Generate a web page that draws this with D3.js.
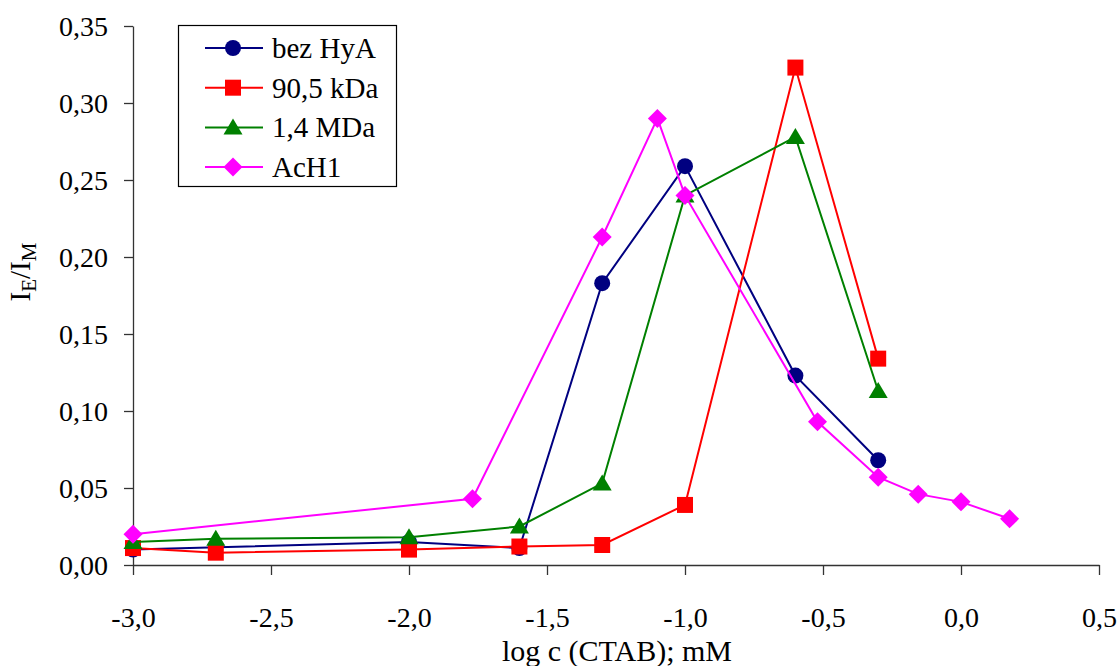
<!DOCTYPE html>
<html><head><meta charset="utf-8">
<script src="https://cdn.jsdelivr.net/npm/d3@7"></script>
<style>
html,body{margin:0;padding:0;background:#fff;}
svg{display:block;font-family:"Liberation Serif","Times New Roman",serif;}
</style></head>
<body>
<svg id="chart" width="1120" height="666"></svg>
<script>
// ---- data ----
const seriesNames = ["bez HyA", "90,5 kDa", "1,4 MDa", "AcH1"];
const bezHyA_x = [-3.0, -2.0, -1.6, -1.3, -1.0, -0.6, -0.3];
const bezHyA_y = [0.010, 0.015, 0.011, 0.183, 0.259, 0.123, 0.068];
const kDa_x = [-3.0, -2.7, -2.0, -1.6, -1.3, -1.0, -0.6, -0.3];
const kDa_y = [0.011, 0.008, 0.010, 0.012, 0.013, 0.039, 0.323, 0.134];
const MDa_x = [-3.0, -2.7, -2.0, -1.6, -1.3, -1.0, -0.6, -0.3];
const MDa_y = [0.015, 0.017, 0.018, 0.025, 0.053, 0.240, 0.278, 0.113];
const AcH1_x = [-3.0, -1.77, -1.3, -1.1, -1.0, -0.52, -0.3, -0.155, 0.0, 0.176];
const AcH1_y = [0.020, 0.043, 0.213, 0.290, 0.240, 0.093, 0.057, 0.046, 0.041, 0.030];
const xTicks = [-3.0, -2.5, -2.0, -1.5, -1.0, -0.5, 0.0, 0.5];
const yTicks = [0, 0.05, 0.10, 0.15, 0.20, 0.25, 0.30, 0.35];

const colors = ["#000080", "#FF0000", "#008000", "#FF00FF"];

// custom marker shapes (Excel-like, centred on the point)
const markerPath = [
  () => d3.symbol().type(d3.symbolCircle).size(201)(),
  () => "M-8,-8H8V8H-8Z",
  () => "M0,-9L9.5,7H-9.5Z",
  () => "M0,-9.5L9.5,0L0,9.5L-9.5,0Z"
];

const series = [
  bezHyA_x.map((x,i)=>({x, y: bezHyA_y[i]})),
  kDa_x.map((x,i)=>({x, y: kDa_y[i]})),
  MDa_x.map((x,i)=>({x, y: MDa_y[i]})),
  AcH1_x.map((x,i)=>({x, y: AcH1_y[i]}))
];

const svg = d3.select("#chart");
const x = d3.scaleLinear().domain([-3, 0.5]).range([133, 1099]);
const y = d3.scaleLinear().domain([0, 0.35]).range([565, 26]);
const fmt1 = d => d3.format(".1f")(d).replace(".", ",").replace("−","-");
const fmt2 = d => d3.format(".2f")(d).replace(".", ",");

// axes
const xAxis = svg.append("g").attr("transform", "translate(0,565)")
  .call(d3.axisBottom(x).tickValues(xTicks).tickFormat(fmt1).tickSize(10).tickSizeOuter(0));
const yAxis = svg.append("g").attr("transform", "translate(133,0)")
  .call(d3.axisLeft(y).tickValues(yTicks).tickFormat(fmt2).tickSize(9).tickSizeOuter(0));
[xAxis, yAxis].forEach(a => {
  a.selectAll("path,line").attr("stroke", "#333").attr("stroke-width", 1.3);
  a.selectAll("text").attr("fill", "#000").style("font-family", '"Liberation Serif", serif').style("font-size", "28px");
});
xAxis.selectAll("text").attr("dy", null).attr("y", 62);
yAxis.selectAll("text").attr("x", -25).attr("dy", "0.34em");

// axis titles
svg.append("text").attr("x", 617).attr("y", 661).attr("text-anchor", "middle")
  .style("font-size", "30px").text("log c (CTAB); mM");
const yl = svg.append("text").attr("transform", "translate(30,272) rotate(-90)")
  .attr("text-anchor", "middle").style("font-size", "29px");
yl.append("tspan").text("I");
yl.append("tspan").attr("dy", 6).style("font-size", "21px").text("E");
yl.append("tspan").attr("dy", -6).text("/I");
yl.append("tspan").attr("dy", 6).style("font-size", "21px").text("M");

// lines & markers
const line = d3.line().x(d => x(d.x)).y(d => y(d.y));
series.forEach((s, i) => {
  const g = svg.append("g");
  g.append("path").datum(s).attr("d", line).attr("fill", "none")
    .attr("stroke", colors[i]).attr("stroke-width", 2);
  g.selectAll("path.m").data(s).enter().append("path").attr("class", "m")
    .attr("d", markerPath[i]())
    .attr("transform", d => `translate(${x(d.x)},${y(d.y)})`)
    .attr("fill", colors[i]);
});

// legend
const leg = svg.append("g");
leg.append("rect").attr("x", 178.5).attr("y", 25.5).attr("width", 218).attr("height", 161)
  .attr("fill", "#fff").attr("stroke", "#000").attr("stroke-width", 1.2);
seriesNames.forEach((name, i) => {
  const yy = 48 + i * 39.7;
  leg.append("line").attr("x1", 205).attr("x2", 263).attr("y1", yy).attr("y2", yy)
    .attr("stroke", colors[i]).attr("stroke-width", 2);
  leg.append("path").attr("d", markerPath[i]())
    .attr("transform", `translate(233,${yy})`).attr("fill", colors[i]);
  leg.append("text").attr("x", 272).attr("y", yy).attr("dy", "0.34em")
    .style("font-size", "29px").text(name);
});
</script>
</body></html>
